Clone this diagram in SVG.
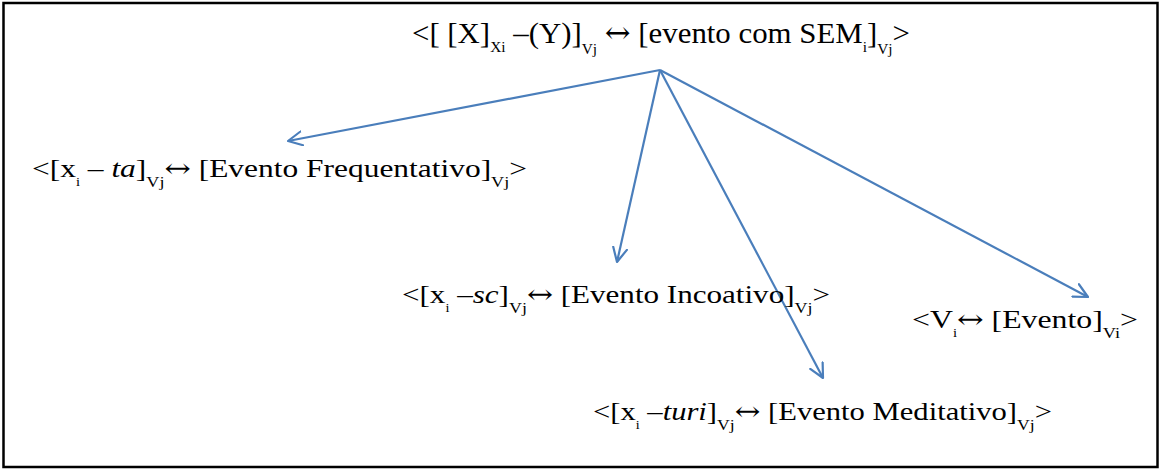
<svg xmlns="http://www.w3.org/2000/svg" width="1161" height="470" viewBox="0 0 1161 470">
<defs>
<style>
.t{font-family:"Liberation Serif","Times New Roman",serif;fill:#000;}
.big{font-size:30px;}
.med{font-size:26px;}
.sb{font-size:15px;}
.si{font-size:12px;}
.it{font-style:italic;}
.ar{font-family:"DejaVu Serif","DejaVu Sans",serif;}
.c{fill:none;stroke:#4a7ebb;stroke-width:2.2;}
</style>
<marker id="ah" viewBox="0 0 16 16" refX="15" refY="8" markerWidth="16" markerHeight="16" markerUnits="userSpaceOnUse" orient="auto">
<path d="M1,1 L15,8 L1,15" fill="none" stroke="#4a7ebb" stroke-width="2.2" stroke-linecap="round" stroke-linejoin="round"/>
</marker>
</defs>
<rect x="0" y="0" width="1161" height="470" fill="#fff"/>
<rect x="3.5" y="3" width="1154" height="464" fill="none" stroke="#000" stroke-width="2.5"/>
<g id="connectors">
<line class="c" x1="660" y1="70" x2="288" y2="141" marker-end="url(#ah)"/>
<line class="c" x1="660" y1="70" x2="617" y2="262" marker-end="url(#ah)"/>
<line class="c" x1="660" y1="70" x2="823" y2="378" marker-end="url(#ah)"/>
<line class="c" x1="660" y1="70" x2="1088" y2="297" marker-end="url(#ah)"/>
</g>
<g id="node-top">
<text class="t big" x="412" y="43" textLength="498" lengthAdjust="spacingAndGlyphs">&lt;[ [X]<tspan class="sb" dy="9">Xi</tspan><tspan dy="-9"> –(Y)]</tspan><tspan class="sb" dy="11">Vj</tspan><tspan dy="-11"> </tspan><tspan class="ar">↔</tspan><tspan> [evento com SEM</tspan><tspan class="sb" dy="9">i</tspan><tspan dy="-9">]</tspan><tspan class="sb" dy="11">Vj</tspan><tspan dy="-11">&gt;</tspan></text>
</g>
<g id="node-frequentativo">
<text class="t med" x="32" y="177" textLength="495" lengthAdjust="spacingAndGlyphs">&lt;[x<tspan class="si" dy="9">i</tspan><tspan dy="-9"> – </tspan><tspan class="it">ta</tspan>]<tspan class="sb" dy="10">Vj</tspan><tspan dy="-10" class="ar">↔</tspan><tspan> [Evento Frequentativo]</tspan><tspan class="sb" dy="10">Vj</tspan><tspan dy="-10">&gt;</tspan></text>
</g>
<g id="node-incoativo">
<text class="t med" x="402" y="303" textLength="428" lengthAdjust="spacingAndGlyphs">&lt;[x<tspan class="si" dy="9">i</tspan><tspan dy="-9"> –</tspan><tspan class="it">sc</tspan>]<tspan class="sb" dy="10">Vj</tspan><tspan dy="-10" class="ar">↔</tspan><tspan> [Evento Incoativo]</tspan><tspan class="sb" dy="10">Vj</tspan><tspan dy="-10">&gt;</tspan></text>
</g>
<g id="node-meditativo">
<text class="t med" x="593" y="420" textLength="459" lengthAdjust="spacingAndGlyphs">&lt;[x<tspan class="si" dy="9">i</tspan><tspan dy="-9"> –</tspan><tspan class="it">turi</tspan>]<tspan class="sb" dy="10">Vj</tspan><tspan dy="-10" class="ar">↔</tspan><tspan> [Evento Meditativo]</tspan><tspan class="sb" dy="10">Vj</tspan><tspan dy="-10">&gt;</tspan></text>
</g>
<g id="node-evento">
<text class="t med" x="912" y="328" textLength="226" lengthAdjust="spacingAndGlyphs">&lt;V<tspan class="si" dy="9">i</tspan><tspan dy="-9" class="ar">↔</tspan><tspan> [Evento]</tspan><tspan class="sb" dy="10">Vi</tspan><tspan dy="-10">&gt;</tspan></text>
</g>
</svg>
